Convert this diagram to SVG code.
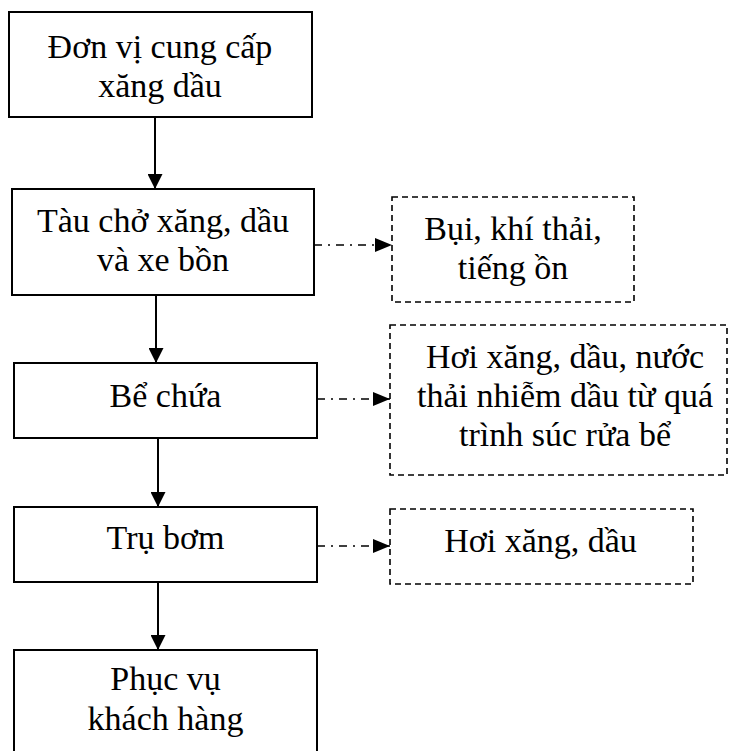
<svg xmlns="http://www.w3.org/2000/svg" width="730" height="751" viewBox="0 0 730 751">
<style>
.box{fill:#fff;stroke:#000;stroke-width:2}
.dbox{fill:#fff;stroke:#000;stroke-width:1.6;stroke-dasharray:6,4}
.t{font-family:"Liberation Serif","Times New Roman",serif;font-size:34px;fill:#000;text-anchor:middle}
.flow{stroke:#000;stroke-width:2;fill:none}
.side{stroke:#000;stroke-width:1.6;fill:none;stroke-dasharray:8,6,2,6}
</style>
<defs>
<marker id="ah" markerWidth="15" markerHeight="15" refX="15" refY="7.5" orient="auto" markerUnits="userSpaceOnUse">
<path d="M0,0 L15,7.5 L0,15 Z" fill="#000"/>
</marker>
<marker id="ah2" markerWidth="17" markerHeight="14" refX="17" refY="7" orient="auto" markerUnits="userSpaceOnUse">
<path d="M0,0 L17,7 L0,14 Z" fill="#000"/>
</marker>
</defs>
<rect width="730" height="751" fill="#fff"/>
<g id="connectors">
<line class="flow" x1="155" y1="117" x2="155" y2="189" marker-end="url(#ah)"/>
<line class="flow" x1="156" y1="295" x2="156" y2="363" marker-end="url(#ah)"/>
<line class="flow" x1="158" y1="438" x2="158" y2="507" marker-end="url(#ah)"/>
<line class="flow" x1="158" y1="582" x2="158" y2="650" marker-end="url(#ah)"/>
<line class="side" x1="314" y1="245" x2="392" y2="245" marker-end="url(#ah2)"/>
<line class="side" x1="317" y1="399" x2="390" y2="399" marker-end="url(#ah2)"/>
<line class="side" x1="317" y1="546" x2="390" y2="546" marker-end="url(#ah2)"/>
</g>
<g id="n1">
<rect class="box" x="9" y="12" width="303" height="105"/>
<text class="t" x="160" y="58">Đơn vị cung cấp</text>
<text class="t" x="160" y="97">xăng dầu</text>
</g>
<g id="n2">
<rect class="box" x="12" y="189" width="302" height="106"/>
<text class="t" x="163" y="232">Tàu chở xăng, dầu</text>
<text class="t" x="163" y="271">và xe bồn</text>
</g>
<g id="n3">
<rect class="box" x="14" y="363" width="303" height="75"/>
<text class="t" x="165.5" y="407">Bể chứa</text>
</g>
<g id="n4">
<rect class="box" x="14" y="507" width="303" height="75"/>
<text class="t" x="165.5" y="549">Trụ bơm</text>
</g>
<g id="n5">
<rect class="box" x="14" y="650" width="303" height="120"/>
<text class="t" x="165.5" y="690">Phục vụ</text>
<text class="t" x="165.5" y="730">khách hàng</text>
</g>
<g id="e1">
<rect class="dbox" x="392" y="197" width="242" height="105"/>
<text class="t" x="513" y="240">Bụi, khí thải,</text>
<text class="t" x="513" y="279">tiếng ồn</text>
</g>
<g id="e2">
<rect class="dbox" x="390" y="325" width="337" height="150"/>
<text class="t" x="565" y="368">Hơi xăng, dầu, nước</text>
<text class="t" x="565" y="407">thải nhiễm dầu từ quá</text>
<text class="t" x="565" y="446">trình súc rửa bể</text>
</g>
<g id="e3">
<rect class="dbox" x="390" y="509" width="303" height="75"/>
<text class="t" x="540.5" y="552">Hơi xăng, dầu</text>
</g>
</svg>
